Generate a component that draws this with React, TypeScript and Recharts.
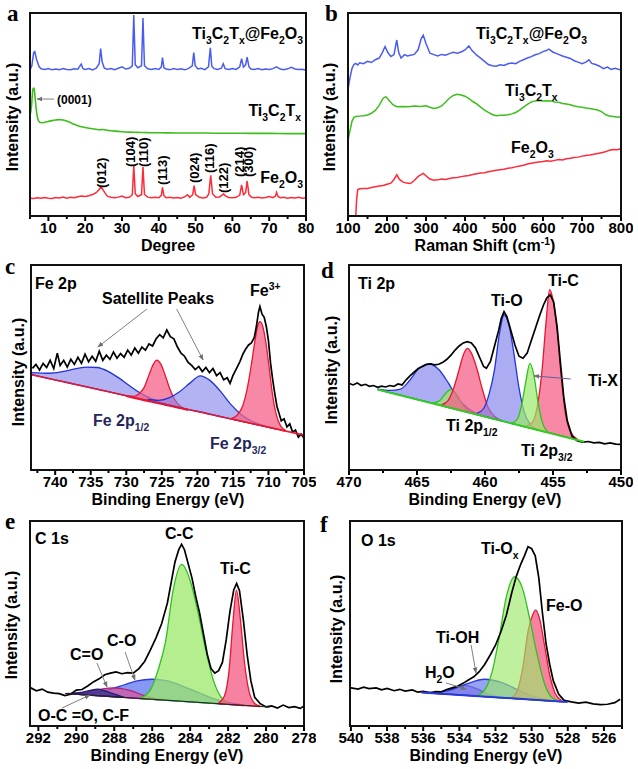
import React from 'react';
import { ComposedChart, Line, Area, XAxis, YAxis, ReferenceLine } from 'recharts';

type Pt = [number, number];
type Band = [number, number, number];

const FONT = '"Liberation Sans", Arial, sans-serif';

// ---------- (a) XRD ----------
const xrdTicks = [5, 10, 15, 20, 25, 30, 35, 40, 45, 50, 55, 60, 65, 70, 75, 80];
const xrdLabels = [10, 20, 30, 40, 50, 60, 70, 80];
const xrdHybrid: Pt[] = [
  [5, 72.0], [5.5, 74], [6, 80.5], [6.3, 81], [6.8, 77], [7.5, 73.5], [8, 72.5], [9, 72.2], [10, 72.6], [11, 72.0],
  [12, 72.4], [13, 72.1], [14, 72.6], [15, 72.2], [16, 72.0], [17, 72.5], [18, 72.3], [18.9, 74.8], [19.4, 72.6],
  [20, 72.2], [21, 72.6], [22, 72.0], [23, 72.8], [23.8, 75], [24.2, 82.5], [24.6, 76], [25.2, 72.8], [26, 72.3],
  [27, 72.6], [28, 72.1], [29, 72.8], [30, 73.5], [31, 72.4], [32, 72.8], [32.8, 74], [33.2, 99], [33.6, 74.5],
  [34.3, 73], [35.3, 74], [35.7, 97.5], [36.1, 74], [37, 72.5], [38, 72.2], [39, 72.6], [40, 72.2], [40.7, 73.5],
  [41, 78], [41.4, 73], [42, 72.4], [43, 72.0], [44, 72.6], [45, 72.2], [46, 72.5], [47, 72.0], [48, 72.6],
  [49.1, 74], [49.5, 80.5], [49.9, 74], [50.6, 72.4], [51.5, 72.8], [52.5, 72.1], [53.5, 73.5], [54, 82.8],
  [54.4, 73.8], [55, 72.6], [56, 72.2], [57, 72.8], [57.5, 75], [58, 72.6], [59, 72.2], [60, 72.6], [61, 72.2],
  [62, 73.5], [62.5, 77.5], [63, 73.4], [63.6, 74.5], [64, 78.3], [64.5, 73.5], [65, 72.4], [66, 72.2], [67, 72.6],
  [68, 72.1], [69, 72.4], [70, 72.2], [71, 72.6], [72, 73.5], [73, 72.4], [74, 72.1], [75, 72.5], [76, 73.2],
  [77, 72.4], [78, 72.2], [79, 72.3], [80, 71.8],
];
const xrdMxene: Pt[] = [
  [5, 49.5], [5.4, 54], [5.8, 62.5], [6.1, 63], [6.4, 58], [6.8, 51], [7.3, 47], [8, 45.9], [9, 46.2], [10, 46.6],
  [11, 47.0], [12, 47.3], [13, 47.5], [14, 47.3], [15, 46.8], [16, 46.0], [17, 45.2], [18, 44.5], [19, 44.0],
  [20, 43.6], [21, 43.2], [22, 43.0], [23, 42.7], [24, 42.5], [25, 42.6], [26, 42.2], [27, 42.0], [28, 41.8],
  [30, 41.5], [32, 41.3], [34, 41.2], [36, 41.1], [38, 41.0], [40, 41.0], [45, 40.9], [50, 40.9], [55, 40.8],
  [60, 40.8], [65, 40.7], [70, 40.7], [75, 40.6], [80, 40.6],
];
const xrdOxide: Pt[] = [
  [5, 8.8], [6, 8.6], [7, 9.0], [8, 8.7], [9, 9.1], [10, 8.8], [11, 8.6], [12, 9.1], [13, 8.9], [14, 9.3],
  [15, 8.8], [16, 9.2], [17, 9.0], [18, 9.5], [19, 9.8], [20, 9.6], [21, 10.0], [22, 10.6], [23, 11.5],
  [23.8, 13], [24.3, 14.5], [24.8, 13], [25.5, 11], [26, 9.8], [27, 9.2], [28, 9.0], [29, 9.3], [30, 9.8],
  [31, 9.0], [32, 9.2], [32.8, 10.5], [33.2, 24.9], [33.6, 11], [34.3, 9.6], [35.3, 10.5], [35.7, 24.1],
  [36.1, 10.6], [37, 9.3], [38, 9.0], [39, 9.2], [40, 9.0], [40.7, 10.2], [41.0, 14.1], [41.4, 10], [42, 9.0],
  [43, 9.2], [44, 8.9], [45, 9.1], [46, 8.8], [47, 9.4], [47.8, 10.5], [48.4, 9.2], [49.2, 10.5], [49.6, 15],
  [50.0, 10.5], [51, 9.2], [52, 8.9], [53, 9.2], [53.6, 11], [54.1, 20], [54.6, 11], [55.5, 9.2], [56.5, 9.4],
  [57.2, 10.3], [57.6, 10.8], [58.2, 9.8], [59, 9.1], [60, 9.0], [61, 9.2], [62, 10.3], [62.5, 15.3], [63, 10.5],
  [63.6, 11.5], [64.0, 17.2], [64.5, 10.5], [65.2, 9.2], [66, 9.0], [67, 9.2], [68, 8.9], [69, 9.1], [70, 9.6],
  [71, 9.0], [71.7, 9.8], [72, 11.6], [72.4, 9.6], [73, 9.0], [74, 9.2], [75, 8.8], [76, 9.1], [77, 8.9],
  [78, 9.2], [79, 8.8], [80, 9.0],
];

// ---------- (b) Raman ----------
const ramanTicks = [100, 150, 200, 250, 300, 350, 400, 450, 500, 550, 600, 650, 700, 750, 800];
const ramanLabels = [100, 200, 300, 400, 500, 600, 700, 800];
const ramanHybrid: Pt[] = [
  [100, 62.4], [105, 68], [110, 72.5], [115, 74.6], [120, 75.2], [125, 74.4], [130, 75.5], [140, 75.0],
  [150, 76.2], [160, 75.6], [170, 77.0], [180, 77.8], [188, 80.5], [195, 83.5], [202, 80.5], [210, 78.6],
  [218, 79.5], [225, 86.7], [230, 80.5], [236, 77.8], [245, 79.5], [252, 78.8], [260, 79.2], [270, 79.6],
  [280, 82], [288, 87.5], [293, 89], [300, 85], [310, 80.2], [320, 79.5], [330, 78.8], [340, 79.6], [350, 79.2],
  [360, 80.0], [370, 80.6], [380, 80.2], [390, 80.8], [400, 81.8], [410, 83.8], [418, 81.5], [430, 79.2],
  [440, 77.8], [450, 76.2], [460, 74.6], [470, 74.0], [480, 73.8], [490, 74.5], [500, 74.2], [510, 75.0],
  [520, 75.4], [530, 75.0], [540, 76.2], [550, 77.0], [560, 77.8], [570, 78.5], [580, 79.4], [590, 80.0],
  [600, 81.0], [608, 81.5], [615, 82.2], [625, 80.8], [635, 80.0], [650, 78.8], [660, 78.2], [670, 77.6],
  [680, 76.5], [690, 75.8], [700, 75.0], [710, 75.8], [718, 77.0], [725, 75.2], [735, 74.6], [745, 73.8],
  [755, 72.6], [765, 73.4], [775, 72.2], [785, 72.8], [795, 72.2], [800, 72.0],
];
const ramanMxene: Pt[] = [
  [100, 37.3], [105, 42], [110, 46.5], [115, 48.6], [120, 49.0], [130, 49.2], [140, 49.4], [150, 49.8],
  [160, 50.6], [170, 52.0], [180, 54.5], [190, 58.0], [197, 58.8], [205, 57.0], [215, 54.8], [225, 53.8],
  [240, 54.0], [255, 53.8], [270, 54.2], [285, 54.0], [300, 54.3], [310, 53.6], [320, 53.0], [330, 53.3],
  [340, 54.2], [350, 56.0], [360, 58.0], [370, 59.4], [380, 60.0], [390, 59.6], [400, 59.0], [410, 57.8],
  [420, 56.4], [430, 55.2], [440, 53.6], [450, 52.2], [460, 51.0], [470, 50.0], [480, 49.4], [490, 49.6],
  [500, 49.6], [510, 49.9], [520, 50.3], [530, 51.0], [540, 52.2], [550, 53.6], [560, 55.0], [570, 56.2],
  [580, 56.7], [590, 56.9], [600, 56.6], [610, 56.8], [620, 56.7], [630, 56.2], [640, 56.0], [650, 55.4],
  [660, 55.2], [670, 54.8], [680, 54.2], [690, 53.8], [700, 53.6], [710, 53.2], [720, 53.0], [730, 52.6],
  [740, 52.2], [750, 51.4], [760, 50.0], [770, 49.3], [780, 49.0], [790, 48.8], [800, 48.6],
];
const ramanOxide: Pt[] = [
  [120, 0], [122, 8], [125, 13], [130, 13.4], [140, 13.6], [150, 13.6], [160, 14.0], [170, 14.4], [180, 14.8],
  [190, 15.0], [200, 15.6], [210, 16.2], [218, 18.0], [225, 20.3], [232, 18.0], [240, 16.8], [250, 16.2],
  [260, 16.0], [270, 17.5], [280, 19.5], [293, 21.0], [300, 19.8], [310, 18.2], [320, 17.6], [330, 17.8],
  [340, 18.2], [350, 18.0], [360, 18.5], [370, 18.8], [380, 19.0], [390, 19.4], [400, 19.7], [410, 20.0],
  [420, 20.4], [430, 20.8], [440, 21.2], [450, 21.3], [460, 21.8], [470, 22.2], [480, 22.5], [490, 22.8],
  [500, 23.0], [510, 23.5], [520, 23.8], [530, 24.2], [540, 24.6], [550, 25.0], [560, 25.6], [570, 26.0],
  [580, 26.4], [590, 26.6], [600, 26.8], [610, 27.2], [620, 27.0], [630, 27.4], [640, 27.8], [650, 27.6],
  [660, 28.2], [670, 28.4], [680, 28.8], [690, 29.0], [700, 29.5], [710, 29.8], [720, 30.0], [730, 30.4],
  [740, 30.8], [750, 31.2], [760, 31.6], [770, 32.4], [780, 32.8], [790, 32.6], [800, 33.2],
];

// ---------- (c) Fe 2p ----------
const fe2pTicks = [705, 707.5, 710, 712.5, 715, 717.5, 720, 722.5, 725, 727.5, 730, 732.5, 735, 737.5, 740, 742.5];
const fe2pLabels = [705, 710, 715, 720, 725, 730, 735, 740];
const fe2pRaw: Pt[] = [
  [743.2, 49.6], [742.7, 51.5], [742.2, 48.8], [741.7, 52.0], [741.2, 50.0], [740.7, 53.5], [740.2, 49.5],
  [739.7, 57.0], [739.3, 51.0], [738.8, 53.5], [738.3, 50.2], [737.8, 54.0], [737.3, 51.5], [736.8, 55.0],
  [736.3, 52.0], [735.8, 56.5], [735.3, 52.8], [734.8, 55.5], [734.3, 53.0], [733.8, 58.0], [733.3, 53.5],
  [732.8, 56.0], [732.3, 54.0], [731.8, 57.5], [731.3, 54.5], [730.8, 56.8], [730.3, 55.0], [729.8, 58.5],
  [729.3, 56.0], [728.8, 59.5], [728.3, 57.0], [727.8, 60.0], [727.3, 58.5], [726.8, 61.5], [726.3, 60.5],
  [725.8, 64.0], [725.3, 66.0], [724.8, 64.5], [724.3, 68.3], [723.8, 65.0], [723.3, 64.0], [722.8, 60.0],
  [722.3, 57.0], [721.8, 55.5], [721.3, 52.5], [720.8, 51.0], [720.3, 49.0], [719.8, 50.5], [719.3, 48.0],
  [718.8, 50.0], [718.3, 47.5], [717.8, 49.5], [717.3, 46.0], [716.8, 47.5], [716.3, 44.0], [715.8, 45.0],
  [715.4, 42.3], [715.0, 46.0], [714.5, 49.5], [714.0, 53.0], [713.6, 56.5], [713.2, 59.0], [712.8, 61.0],
  [712.4, 62.0], [712.0, 64.5], [711.7, 70.0], [711.4, 77.0], [711.2, 79.7], [710.9, 76.0], [710.6, 74.5],
  [710.3, 70.0], [710.0, 63.0], [709.7, 52.0], [709.4, 44.0], [709.1, 37.0], [708.8, 31.0], [708.5, 27.5],
  [708.2, 24.0], [707.8, 25.0], [707.4, 21.0], [707.0, 22.5], [706.6, 18.5], [706.2, 19.5], [705.8, 16.0],
  [705.4, 17.5], [705.0, 15.5],
];
const fe2pBase: Pt[] = [[743.3, 46.5], [705, 17]];
const fe2pSat1: Band[] = [
  [743.3, 46.5, 47.5], [741, 44.7, 47.2], [739, 43.2, 48.0], [737, 41.7, 49.5], [735.5, 40.5, 50.2],
  [734.1, 39.4, 50.0], [732.5, 38.2, 48.0], [731, 37.0, 44.8], [729.5, 35.9, 41.0], [728, 34.7, 37.5],
  [726.5, 33.6, 34.8], [725, 32.4, 32.8], [723, 30.9, 31.0],
];
const fe2pHalf: Band[] = [
  [730, 35.9, 36.1], [729, 35.1, 35.9], [728.2, 34.5, 37.2], [727.5, 33.9, 40.2], [726.8, 33.4, 46.4],
  [726.2, 32.9, 51.5], [725.7, 32.6, 53.6], [725.2, 32.2, 52.0], [724.6, 31.7, 47.0], [723.9, 31.2, 39.8],
  [723.2, 30.6, 34.5], [722.3, 29.9, 30.8], [721.3, 29.1, 29.3],
];
const fe2pSat2: Band[] = [
  [727, 34.0, 34.4], [725.5, 32.8, 34.0], [724, 31.6, 35.2], [722.5, 30.5, 38.2], [721, 29.3, 42.5],
  [719.6, 28.3, 45.9], [718.2, 27.2, 43.6], [716.8, 26.1, 38.6], [715.3, 24.9, 32.0], [713.8, 23.8, 27.0],
  [712.3, 22.6, 23.8], [710.8, 21.5, 21.8], [709, 20.1, 20.2],
];
const fe2pMain: Band[] = [
  [715.2, 24.9, 25.2], [714.4, 24.3, 26.8], [713.6, 23.6, 31.5], [713.0, 23.2, 39.5], [712.4, 22.7, 51.5],
  [711.9, 22.3, 63.0], [711.5, 22.0, 70.5], [711.2, 21.8, 72.4], [710.8, 21.5, 70.0], [710.4, 21.2, 63.0],
  [709.9, 20.8, 50.0], [709.4, 20.4, 36.0], [708.9, 20.0, 27.0], [708.3, 19.5, 21.5], [707.6, 19.0, 19.3],
];

// ---------- (d) Ti 2p ----------
const ti2pTicks = [450, 452.5, 455, 457.5, 460, 462.5, 465, 467.5, 470];
const ti2pLabels = [450, 455, 460, 465, 470];
const ti2pRaw: Pt[] = [
  [470, 42.3], [469.7, 41.5], [469.4, 42.5], [469.1, 41.2], [468.8, 41.8], [468.5, 40.8], [468.2, 41.2],
  [467.9, 40.3], [467.6, 40.9], [467.3, 40.5], [467.0, 41.2], [466.7, 40.8], [466.4, 42.0], [466.1, 41.5],
  [465.8, 44.0], [465.5, 46.0], [465.2, 47.8], [464.9, 49.5], [464.6, 50.5], [464.3, 51.5], [464.0, 51.8],
  [463.7, 51.3], [463.4, 51.6], [463.1, 52.5], [462.8, 54.0], [462.5, 56.0], [462.2, 58.5], [461.9, 60.5],
  [461.6, 62.0], [461.3, 62.6], [461.0, 62.0], [460.7, 59.5], [460.4, 55.0], [460.1, 50.5], [459.9, 49.6],
  [459.6, 53.0], [459.3, 60.5], [459.0, 68.0], [458.8, 74.0], [458.6, 77.2], [458.4, 75.0], [458.1, 68.0],
  [457.8, 61.0], [457.5, 55.5], [457.2, 54.5], [456.9, 57.0], [456.6, 63.0], [456.3, 69.0], [456.0, 75.0],
  [455.7, 80.5], [455.45, 84.0], [455.2, 85.4], [454.95, 82.0], [454.7, 70.0], [454.45, 52.0], [454.2, 35.0],
  [453.95, 24.0], [453.6, 16.5], [453.2, 14.2], [452.8, 13.6], [452.4, 13.9], [452.0, 13.2], [451.6, 13.5],
  [451.2, 12.8], [450.8, 13.2], [450.4, 12.6], [450.0, 12.5],
];
const ti2pBase: Pt[] = [[467.9, 39.3], [452.7, 13.8]];
const ti2pOxHalf: Band[] = [
  [467.9, 39.3, 39.5], [467.0, 37.8, 38.8], [466.2, 36.5, 39.5], [465.5, 35.3, 44.0], [464.8, 34.1, 50.0],
  [464.1, 33.0, 51.7], [463.4, 31.8, 49.0], [462.7, 30.6, 42.5], [462.0, 29.4, 35.0], [461.3, 28.3, 30.3],
  [460.6, 27.1, 27.4],
];
const ti2pXHalf: Band[] = [
  [463.8, 32.5, 32.7], [463.3, 31.6, 34.0], [462.9, 31.0, 37.3], [462.5, 30.3, 39.3], [462.1, 29.6, 37.0],
  [461.7, 29.0, 32.5], [461.2, 28.1, 28.3],
];
const ti2pCHalf: Band[] = [
  [463.2, 31.5, 31.8], [462.7, 30.6, 34.0], [462.3, 29.9, 40.0], [461.9, 29.2, 49.0], [461.6, 28.7, 56.0],
  [461.3, 28.2, 59.3], [461.0, 27.7, 57.0], [460.6, 27.0, 49.5], [460.2, 26.4, 39.5], [459.8, 25.7, 31.0],
  [459.3, 24.8, 26.2], [458.7, 23.9, 24.0],
];
const ti2pOx: Band[] = [
  [460.6, 27.1, 27.6], [460.1, 26.2, 30.0], [459.7, 25.6, 37.0], [459.3, 24.9, 49.0], [458.95, 24.3, 66.0],
  [458.6, 23.7, 75.6], [458.25, 23.1, 71.0], [457.9, 22.5, 58.0], [457.5, 21.9, 40.0], [457.1, 21.2, 28.0],
  [456.7, 20.5, 22.5], [456.2, 19.7, 19.9],
];
const ti2pX: Band[] = [
  [458.0, 22.7, 22.9], [457.6, 22.0, 25.0], [457.3, 21.5, 32.0], [457.0, 21.0, 43.0], [456.7, 20.5, 52.0],
  [456.4, 20.0, 46.0], [456.1, 19.5, 33.0], [455.8, 19.0, 23.5], [455.4, 18.3, 18.6],
];
const ti2pC: Band[] = [
  [457.0, 21.0, 21.3], [456.5, 20.2, 23.5], [456.1, 19.5, 33.0], [455.8, 19.0, 49.0], [455.5, 18.5, 73.0],
  [455.25, 18.1, 88.0], [455.0, 17.7, 83.0], [454.7, 17.2, 68.0], [454.4, 16.7, 46.0], [454.1, 16.2, 28.0],
  [453.7, 15.5, 18.5], [453.2, 14.6, 15.0],
];

// ---------- (e) C 1s ----------
const c1sTicks = [278, 279, 280, 281, 282, 283, 284, 285, 286, 287, 288, 289, 290, 291, 292];
const c1sLabels = [278, 280, 282, 284, 286, 288, 290, 292];
const c1sRaw: Pt[] = [
  [292.4, 18.6], [292.1, 17.2], [291.8, 18.0], [291.5, 16.5], [291.2, 16.0], [290.9, 15.8], [290.6, 14.8],
  [290.3, 15.5], [290.0, 17.5], [289.7, 17.8], [289.4, 19.5], [289.1, 21.5], [288.8, 23.0], [288.5, 25.0],
  [288.2, 25.8], [287.9, 26.4], [287.6, 25.5], [287.3, 26.0], [287.0, 25.8], [286.7, 28.0], [286.4, 31.5],
  [286.1, 37.0], [285.8, 43.0], [285.5, 50.0], [285.2, 60.0], [285.0, 70.0], [284.8, 80.0], [284.6, 86.0],
  [284.45, 88.6], [284.3, 86.0], [284.1, 79.0], [283.9, 72.0], [283.7, 63.0], [283.5, 55.0], [283.3, 45.0],
  [283.1, 35.0], [282.9, 28.0], [282.7, 25.8], [282.5, 27.0], [282.3, 31.0], [282.1, 42.0], [281.9, 56.0],
  [281.7, 66.5], [281.55, 69.5], [281.4, 66.0], [281.2, 52.0], [281.0, 35.0], [280.8, 22.0], [280.6, 14.0],
  [280.3, 10.8], [280.0, 9.3], [279.7, 9.8], [279.4, 8.8], [279.1, 10.2], [278.8, 9.0], [278.5, 9.4],
  [278.2, 8.6], [278.0, 9.8],
];
const c1sBase: Pt[] = [[290.6, 15.9], [279.8, 9.2]];
const c1sCC: Band[] = [
  [286.6, 13.39, 13.8], [286.1, 13.08, 17.5], [285.7, 12.83, 27.0], [285.3, 12.59, 41.0], [284.9, 12.34, 66.0],
  [284.45, 12.06, 78.8], [284.0, 11.78, 71.0], [283.6, 11.53, 56.0], [283.2, 11.28, 38.0], [282.8, 11.04, 23.0],
  [282.4, 10.79, 14.5], [281.9, 10.48, 11.0],
];
const c1sTiC: Band[] = [
  [282.5, 10.85, 11.3], [282.2, 10.66, 14.5], [281.95, 10.51, 27], [281.75, 10.39, 50], [281.56, 10.27, 66.3],
  [281.35, 10.14, 52], [281.15, 10.01, 32], [280.9, 9.86, 17], [280.6, 9.67, 11], [280.3, 9.49, 9.7],
];
const c1sCO: Band[] = [
  [290.2, 15.62, 15.8], [289.2, 15.0, 16.2], [288.3, 14.45, 17.8], [287.5, 13.95, 20.0], [286.8, 13.5, 22.0],
  [286.0, 13.02, 22.8], [285.2, 12.5, 22.0], [284.4, 12.0, 19.5], [283.6, 11.5, 16.5], [282.8, 11.0, 13.5],
  [282.0, 10.5, 11.5], [281.2, 10.0, 10.3],
];
const c1sCdO: Band[] = [
  [290.5, 15.8, 15.9], [289.6, 15.25, 16.3], [288.8, 14.75, 17.8], [288.0, 14.26, 18.6], [287.2, 13.76, 17.4],
  [286.4, 13.27, 14.8], [285.6, 12.77, 12.9],
];
const c1sOCO: Band[] = [
  [290.3, 15.69, 15.8], [289.6, 15.25, 16.6], [288.9, 14.82, 18.0], [288.2, 14.38, 16.2], [287.5, 13.95, 14.1],
];

// ---------- (f) O 1s ----------
const o1sTicks = [525, 526, 527, 528, 529, 530, 531, 532, 533, 534, 535, 536, 537, 538, 539, 540];
const o1sLabels = [526, 528, 530, 532, 534, 536, 538, 540];
const o1sRaw: Pt[] = [
  [540, 18.6], [539.6, 18.0], [539.3, 18.9], [539, 18.2], [538.6, 18.6], [538.3, 17.6], [538, 18.3],
  [537.6, 17.2], [537.3, 17.9], [537, 17.0], [536.6, 17.6], [536.3, 16.5], [536, 16.9], [535.6, 16.2],
  [535.3, 16.8], [535, 16.6], [534.7, 17.8], [534.4, 18.6], [534.1, 19.4], [533.8, 20.8], [533.5, 22.4],
  [533.2, 24.0], [532.9, 26.5], [532.6, 30.0], [532.3, 34.5], [532.0, 39.4], [531.7, 46.0], [531.4, 54.0],
  [531.1, 65.0], [530.85, 73.0], [530.6, 79.0], [530.4, 83.0], [530.2, 87.5], [530.0, 86.5], [529.8, 83.0],
  [529.6, 72.0], [529.4, 55.0], [529.2, 40.0], [529.0, 30.0], [528.8, 22.0], [528.5, 15.5], [528.2, 12.5],
  [527.8, 11.8], [527.4, 11.2], [527.0, 11.6], [526.6, 10.8], [526.2, 10.4], [525.8, 10.6], [525.4, 11.4],
  [525.1, 13.0],
];
const o1sBase: Pt[] = [[536.1, 16.4], [528.0, 11.7]];
const o1sTiOx: Band[] = [
  [533.0, 14.58, 14.9], [532.6, 14.35, 17.5], [532.2, 14.12, 26.0], [531.8, 13.89, 43.0], [531.4, 13.66, 63.0],
  [530.94, 13.39, 72.8], [530.5, 13.14, 67.0], [530.1, 12.91, 52.0], [529.7, 12.68, 35.0], [529.3, 12.45, 21.0],
  [528.9, 12.22, 14.0], [528.5, 11.99, 12.2],
];
const o1sFeO: Band[] = [
  [531.1, 13.48, 13.8], [530.8, 13.3, 17.0], [530.5, 13.13, 28.0], [530.2, 12.96, 46.0], [529.95, 12.82, 54.0],
  [529.78, 12.72, 56.5], [529.55, 12.59, 52.0], [529.3, 12.45, 40.0], [529.0, 12.28, 25.0], [528.7, 12.1, 16.0],
  [528.35, 11.9, 12.5],
];
const o1sTiOH: Band[] = [
  [536.0, 16.3, 16.4], [535.2, 15.84, 16.6], [534.4, 15.38, 17.8], [533.6, 14.92, 20.5], [532.6, 14.35, 22.8],
  [531.6, 13.77, 21.0], [530.7, 13.25, 17.4], [529.8, 12.74, 14.2], [529.0, 12.28, 12.6], [528.2, 11.82, 11.9],
];
const o1sH2O: Band[] = [
  [535.6, 16.07, 16.2], [535.0, 15.73, 16.8], [534.3, 15.32, 18.6], [533.7, 14.98, 19.8], [533.1, 14.63, 18.4],
  [532.4, 14.23, 15.6], [531.8, 13.89, 14.1],
];

// ---------- helpers ----------
const asLine = (pts: Pt[]) => pts.map(([x, y]) => ({ x, y }));
const asBand = (pts: Band[]) => pts.map(([x, lo, hi]) => ({ x, r: [lo, hi] }));

const RED = '#ff2a3a';
const BLUE = '#4a5cf0';
const GREEN = '#3cbf1a';

const trace = (key: string, pts: Pt[], color: string, width = 1.5, type: any = 'linear') => (
  <Line key={key} data={asLine(pts)} dataKey="y" type={type} stroke={color} strokeWidth={width}
    dot={false} activeDot={false} isAnimationActive={false} />
);

const peak = (key: string, pts: Band[], fill: string, stroke: string, op = 0.7) => (
  <Area key={key} data={asBand(pts)} dataKey="r" type="monotone" fill={fill} fillOpacity={op}
    stroke={stroke} strokeWidth={1.3} dot={false} activeDot={false} isAnimationActive={false} />
);

const arrow = (key: string, a: Pt, b: Pt, color = '#808080') => (
  <ReferenceLine key={key} segment={[{ x: a[0], y: a[1] }, { x: b[0], y: b[1] }]} stroke={color}
    strokeWidth={1} markerEnd="url(#ah)" ifOverflow="visible" />
);

const renderTick = (p: any, majors: number[]) => {
  const v = p.payload.value;
  const major = majors.includes(v);
  return (
    <g>
      <line x1={p.x} x2={p.x} y1={p.y} y2={p.y + (major ? 5 : 3)} stroke="#000" strokeWidth={2} />
      {major && (
        <text x={p.x} y={p.y + 17} textAnchor="middle" fontSize={15} fontWeight="bold" fontFamily={FONT} fill="#000">
          {v}
        </text>
      )}
    </g>
  );
};

type Box = { x1: number; x2: number; y1: number; y2: number };

const Panel = ({ box, xDomain, ticks, majors, reversed, children }: {
  box: Box; xDomain: [number, number]; ticks: number[]; majors: number[]; reversed?: boolean; children: any;
}) => {
  const ml = 30, mt = 10, mr = 12, ah = 44;
  const pw = box.x2 - box.x1;
  const ph = box.y2 - box.y1;
  return (
    <div style={{ position: 'absolute', left: box.x1 - ml, top: box.y1 - mt }}>
      <ComposedChart width={pw + ml + mr} height={ph + mt + ah} margin={{ top: mt, left: ml, right: mr, bottom: 0 }}>
        <XAxis type="number" dataKey="x" domain={xDomain} ticks={ticks} reversed={reversed} interval={0}
          height={ah} axisLine={false} tickLine={false} tickSize={0} tickMargin={0} allowDataOverflow
          tick={(p: any) => renderTick(p, majors)} />
        <YAxis hide type="number" domain={[0, 100]} allowDataOverflow />
        {children}
      </ComposedChart>
      <div style={{
        position: 'absolute', left: ml - 1.25, top: mt - 1.25, width: pw + 2.5, height: ph + 2.5,
        border: '2.5px solid #111', boxSizing: 'border-box', pointerEvents: 'none',
      }} />
    </div>
  );
};

// rich text: _{sub} and ^{sup}
const Rich = ({ x, y, t, size = 16, anchor = 'start', rot = false, color = '#000', family = FONT }: any) => {
  const parts: [string, string][] = [];
  const re = /_\{([^}]*)\}|\^\{([^}]*)\}|([^_^]+)/g;
  let m: RegExpExecArray | null;
  while ((m = re.exec(t))) {
    if (m[1] !== undefined) parts.push([m[1], 'sub']);
    else if (m[2] !== undefined) parts.push([m[2], 'sup']);
    else parts.push([m[3], '']);
  }
  const off = (k: string) => (k === 'sub' ? size * 0.3 : k === 'sup' ? -size * 0.4 : 0);
  let prev = 0;
  return (
    <text x={x} y={y} fontSize={size} fontWeight="bold" fontFamily={family} fill={color} textAnchor={anchor}
      transform={rot ? `rotate(-90 ${x} ${y})` : undefined}>
      {parts.map(([s, k], i) => {
        const o = off(k);
        const dy = o - prev;
        prev = o;
        return <tspan key={i} dy={dy} fontSize={k ? size * 0.65 : size}>{s}</tspan>;
      })}
    </text>
  );
};

const panelLetters = [
  { x: 7, y: 21, t: 'a' }, { x: 325, y: 21, t: 'b' }, { x: 5, y: 274, t: 'c' },
  { x: 321, y: 278, t: 'd' }, { x: 5, y: 529, t: 'e' }, { x: 320, y: 532, t: 'f' },
];
const yTitles = [
  { x: 18, y: 117 }, { x: 335, y: 117 }, { x: 24, y: 372 }, { x: 337, y: 370 }, { x: 17, y: 625 }, { x: 342, y: 629 },
];
const xTitles = [
  { x: 168, y: 251, t: 'Degree' }, { x: 485, y: 251, t: 'Raman Shift (cm^{-1})' },
  { x: 168, y: 505, t: 'Binding Energy (eV)' }, { x: 485, y: 505, t: 'Binding Energy (eV)' },
  { x: 167, y: 761, t: 'Binding Energy (eV)' }, { x: 486, y: 761, t: 'Binding Energy (eV)' },
];
const notes: any[] = [
  { x: 303, y: 39, t: 'Ti_{3}C_{2}T_{x}@Fe_{2}O_{3}', anchor: 'end' },
  { x: 301, y: 116, t: 'Ti_{3}C_{2}T_{x}', anchor: 'end' },
  { x: 57, y: 104, t: '(0001)', size: 12 },
  { x: 303, y: 183, t: 'Fe_{2}O_{3}', anchor: 'end' },
  { x: 106, y: 188, t: '(012)', size: 13, rot: true },
  { x: 135, y: 167, t: '(104)', size: 13, rot: true },
  { x: 148, y: 167, t: '(110)', size: 13, rot: true },
  { x: 167, y: 185, t: '(113)', size: 13, rot: true },
  { x: 199, y: 183, t: '(024)', size: 13, rot: true },
  { x: 214, y: 173, t: '(116)', size: 13, rot: true },
  { x: 228, y: 193, t: '(122)', size: 13, rot: true },
  { x: 244, y: 177, t: '(214)', size: 13, rot: true },
  { x: 253, y: 177, t: '(300)', size: 13, rot: true },
  { x: 476, y: 39, t: 'Ti_{3}C_{2}T_{x}@Fe_{2}O_{3}' },
  { x: 505, y: 96, t: 'Ti_{3}C_{2}T_{x}' },
  { x: 511, y: 153, t: 'Fe_{2}O_{3}' },
  { x: 35, y: 289, t: 'Fe 2p' },
  { x: 102, y: 304, t: 'Satellite Peaks' },
  { x: 250, y: 296, t: 'Fe^{3+}' },
  { x: 93, y: 426, t: 'Fe 2p_{1/2}', color: '#26265c' },
  { x: 210, y: 449, t: 'Fe 2p_{3/2}', color: '#26265c' },
  { x: 358, y: 289, t: 'Ti 2p' },
  { x: 491, y: 306, t: 'Ti-O' },
  { x: 548, y: 286, t: 'Ti-C' },
  { x: 588, y: 386, t: 'Ti-X' },
  { x: 446, y: 431, t: 'Ti 2p_{1/2}' },
  { x: 521, y: 456, t: 'Ti 2p_{3/2}' },
  { x: 35, y: 544, t: 'C 1s' },
  { x: 165, y: 539, t: 'C-C' },
  { x: 220, y: 574, t: 'Ti-C' },
  { x: 107, y: 646, t: 'C-O' },
  { x: 70, y: 660, t: 'C=O' },
  { x: 38, y: 721, t: 'O-C =O, C-F' },
  { x: 361, y: 546, t: 'O 1s' },
  { x: 481, y: 554, t: 'Ti-O_{x}' },
  { x: 546, y: 611, t: 'Fe-O' },
  { x: 436, y: 643, t: 'Ti-OH' },
  { x: 425, y: 678, t: 'H_{2}O' },
];

const PINK = '#f4628a', PINK_S = '#e8162f';
const LAV = '#8080ec', LAV_S = '#2233d6';
const LIME = '#9be86a', LIME_S = '#30c020';

export default function App() {
  return (
    <div style={{ position: 'absolute', left: 0, top: 0, width: 638, height: 769, background: '#fff', overflow: 'hidden' }}>
      <Panel box={{ x1: 30, x2: 306, y1: 13, y2: 216 }} xDomain={[5, 80]} ticks={xrdTicks} majors={xrdLabels}>
        {[
          trace('h', xrdHybrid, BLUE),
          trace('m', xrdMxene, GREEN, 1.6, 'monotone'),
          trace('o', xrdOxide, RED),
          arrow('a1', [11.5, 57.6], [6.9, 57.6]),
        ]}
      </Panel>
      <Panel box={{ x1: 348, x2: 621, y1: 13, y2: 216 }} xDomain={[100, 800]} ticks={ramanTicks} majors={ramanLabels}>
        {[
          trace('h', ramanHybrid, BLUE),
          trace('m', ramanMxene, GREEN),
          trace('o', ramanOxide, RED),
        ]}
      </Panel>
      <Panel box={{ x1: 31, x2: 304, y1: 265, y2: 470 }} xDomain={[705, 743.4]} ticks={fe2pTicks} majors={fe2pLabels} reversed>
        {[
          peak('s1', fe2pSat1, LAV, LAV_S, 0.6),
          peak('h', fe2pHalf, PINK, PINK_S, 0.75),
          peak('s2', fe2pSat2, LAV, LAV_S, 0.6),
          peak('m', fe2pMain, PINK, PINK_S, 0.75),
          trace('raw', fe2pRaw, '#000', 1.7),
          trace('base', fe2pBase, '#e8162f', 1.6),
          arrow('c1', [727.1, 78.5], [734.0, 60.0]),
          arrow('c2', [722.9, 78.5], [719.2, 53.7]),
        ]}
      </Panel>
      <Panel box={{ x1: 349, x2: 621, y1: 265, y2: 470 }} xDomain={[450, 470]} ticks={ti2pTicks} majors={ti2pLabels} reversed>
        {[
          peak('o1', ti2pOxHalf, LAV, LAV_S, 0.65),
          peak('x1', ti2pXHalf, LIME, LIME_S, 0.7),
          peak('c1', ti2pCHalf, PINK, PINK_S, 0.75),
          peak('o2', ti2pOx, LAV, LAV_S, 0.65),
          peak('c2', ti2pC, PINK, PINK_S, 0.75),
          peak('x2', ti2pX, LIME, LIME_S, 0.7),
          trace('raw', ti2pRaw, '#000', 1.7),
          trace('base', ti2pBase, '#33cc22', 2),
          arrow('d1', [453.7, 44.4], [456.4, 45.9], '#6a5a9a'),
        ]}
      </Panel>
      <Panel box={{ x1: 30, x2: 304, y1: 521, y2: 726 }} xDomain={[278, 292.44]} ticks={c1sTicks} majors={c1sLabels} reversed>
        {[
          peak('co', c1sCO, '#5f74f0', '#2a3ad8', 0.75),
          peak('cdo', c1sCdO, '#d8509c', '#b02070', 0.7),
          peak('oco', c1sOCO, '#2b2b8c', '#20206e', 0.7),
          peak('cc', c1sCC, LIME, LIME_S, 0.75),
          peak('tic', c1sTiC, PINK, PINK_S, 0.8),
          trace('raw', c1sRaw, '#000', 1.7),
          trace('base', c1sBase, '#222', 1),
          arrow('e1', [287.43, 36.1], [286.91, 22.4]),
          arrow('e2', [288.91, 30.7], [288.38, 19.0]),
          arrow('e3', [290.75, 8.8], [289.28, 15.1]),
        ]}
      </Panel>
      <Panel box={{ x1: 350, x2: 622, y1: 521, y2: 726 }} xDomain={[525, 540.05]} ticks={o1sTicks} majors={o1sLabels} reversed>
        {[
          peak('h2o', o1sH2O, '#9a5ad0', '#6a2aa0', 0.6),
          peak('oh', o1sTiOH, '#6a7cf0', '#2a3ad8', 0.7),
          peak('feo', o1sFeO, PINK, PINK_S, 0.8),
          peak('tox', o1sTiOx, LIME, LIME_S, 0.65),
          trace('raw', o1sRaw, '#000', 1.7),
          trace('base', o1sBase, '#2a3ad8', 2),
          arrow('f1', [533.35, 39.5], [533.08, 25.9]),
          arrow('f2', [534.74, 21.0], [533.63, 18.0]),
        ]}
      </Panel>
      <svg width={638} height={769} style={{ position: 'absolute', left: 0, top: 0, pointerEvents: 'none' }}>
        <defs>
          <marker id="ah" viewBox="0 0 10 10" refX="9" refY="5" markerWidth="6" markerHeight="6" orient="auto">
            <path d="M0,1 L10,5 L0,9 z" fill="#707070" />
          </marker>
        </defs>
        {panelLetters.map((l) => (
          <text key={l.t} x={l.x} y={l.y} fontSize={23} fontWeight="bold" fontFamily='"Liberation Serif", "Times New Roman", serif'>{l.t}</text>
        ))}
        {yTitles.map((p, i) => (
          <Rich key={'y' + i} x={p.x} y={p.y} t="Intensity (a.u.)" anchor="middle" rot />
        ))}
        {xTitles.map((p, i) => (
          <Rich key={'x' + i} x={p.x} y={p.y} t={p.t} anchor="middle" />
        ))}
        {notes.map((n, i) => (
          <Rich key={'n' + i} {...n} />
        ))}
      </svg>
    </div>
  );
}
